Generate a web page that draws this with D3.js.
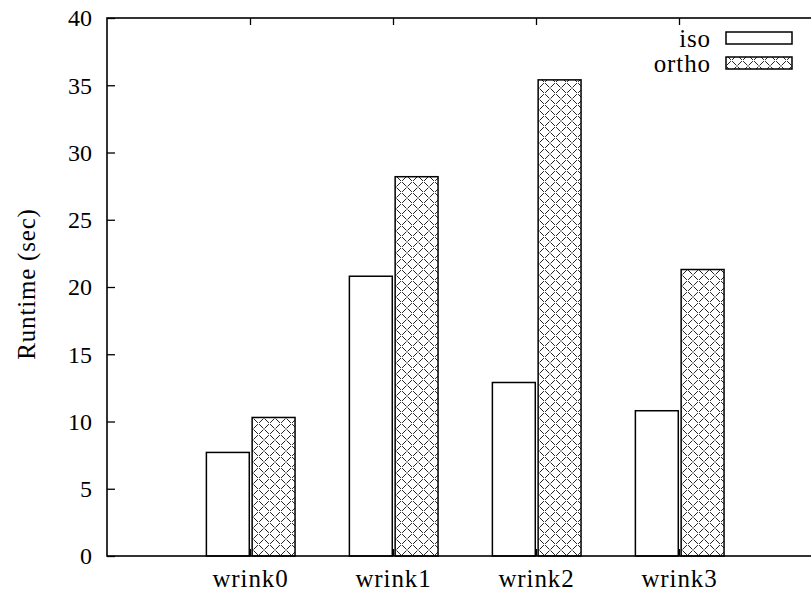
<!DOCTYPE html>
<html>
<head>
<meta charset="utf-8">
<script src="https://cdn.jsdelivr.net/npm/d3@7"></script>
<style>
  html, body { margin: 0; padding: 0; background: #fff; }
  svg { display: block; }
  text { font-family: "Liberation Serif", "DejaVu Serif", serif; fill: #000; }
</style>
</head>
<body>
<svg id="chart" width="811" height="594"></svg>
<script>
// Runtime per mesh, isotropic vs orthotropic
const categories = ["wrink0", "wrink1", "wrink2", "wrink3"];
const seriesNames = ["iso", "ortho"];
const isoValues = [7.7, 20.8, 12.9, 10.8];
const orthoValues = [10.3, 28.2, 35.4, 21.3];
const yTicks = [0, 5, 10, 15, 20, 25, 30, 35, 40];
const yLabel = "Runtime (sec)";

const svg = d3.select("#chart");
const frame = { left: 107, top: 18, right: 822, bottom: 556 };

// x in category-index units: one slot of padding on the left and right
const x = d3.scaleLinear().domain([-1, categories.length]).range([frame.left, frame.right]);
const y = d3.scaleLinear().domain([0, 40]).range([frame.bottom, frame.top]);

// crosshatch fill
const defs = svg.append("defs");
const pat = defs.append("pattern")
  .attr("id", "xhatch")
  .attr("patternUnits", "userSpaceOnUse")
  .attr("width", 11).attr("height", 11);
pat.append("rect").attr("width", 11).attr("height", 11).attr("fill", "#fff");
pat.append("path")
  .attr("d", "M0,0 L11,11 M11,0 L0,11")
  .attr("stroke", "#222").attr("stroke-width", 1)
  .attr("stroke-dasharray", "6.2 1.6")
  .attr("stroke-dashoffset", "-0.8");

const fills = { iso: "#fff", ortho: "url(#xhatch)" };
// bar extents relative to the category centre, in category units
const barSpan = { iso: [-0.305, -0.005], ortho: [0.015, 0.315] };

const rows = [];
categories.forEach((c, i) => {
  rows.push({ cat: c, i, s: "iso", v: isoValues[i] });
  rows.push({ cat: c, i, s: "ortho", v: orthoValues[i] });
});

// bars
svg.append("g").selectAll("rect").data(rows).join("rect")
  .attr("x", d => x(d.i + barSpan[d.s][0]))
  .attr("width", d => x(d.i + barSpan[d.s][1]) - x(d.i + barSpan[d.s][0]))
  .attr("y", d => y(d.v))
  .attr("height", d => y(0) - y(d.v))
  .attr("fill", d => fills[d.s])
  .attr("stroke", "#000").attr("stroke-width", 1.5);

// y axis (left, ticks inward) and mirror on the right
const yAxisL = d3.axisRight(y).tickValues(yTicks).tickSize(8).tickFormat("");
svg.append("g").attr("transform", `translate(${frame.left},0)`).call(yAxisL)
  .call(g => g.select(".domain").remove())
  .call(g => g.selectAll("line").attr("stroke-width", 1.3));
const yAxisR = d3.axisLeft(y).tickValues(yTicks).tickSize(8).tickFormat("");
svg.append("g").attr("transform", `translate(${frame.right},0)`).call(yAxisR)
  .call(g => g.select(".domain").remove())
  .call(g => g.selectAll("line").attr("stroke-width", 1.3));

// y tick labels
svg.append("g").selectAll("text").data(yTicks).join("text")
  .attr("x", frame.left - 15)
  .attr("y", d => y(d))
  .attr("dy", "0.35em")
  .attr("text-anchor", "end")
  .attr("font-size", 24)
  .text(d => d);

// x ticks: top and bottom, pointing inward
const catIdx = categories.map((c, i) => i);
const xAxisTop = d3.axisBottom(x).tickValues(catIdx).tickSize(7).tickFormat("");
svg.append("g").attr("transform", `translate(0,${frame.top})`).call(xAxisTop)
  .call(g => g.select(".domain").remove())
  .call(g => g.selectAll("line").attr("stroke-width", 1.3));
const xAxisBot = d3.axisTop(x).tickValues(catIdx).tickSize(7).tickFormat("");
svg.append("g").attr("transform", `translate(0,${frame.bottom})`).call(xAxisBot)
  .call(g => g.select(".domain").remove())
  .call(g => g.selectAll("line").attr("stroke-width", 1.3));

// x labels
svg.append("g").selectAll("text").data(categories).join("text")
  .attr("x", (d, i) => x(i) + 0.5)
  .attr("y", 587)
  .attr("text-anchor", "middle")
  .attr("font-size", 25)
  .attr("letter-spacing", 0.9)
  .text(d => d);

// frame
svg.append("rect")
  .attr("x", frame.left).attr("y", frame.top)
  .attr("width", frame.right - frame.left).attr("height", frame.bottom - frame.top)
  .attr("fill", "none").attr("stroke", "#000").attr("stroke-width", 1.6);

// y label
svg.append("text")
  .attr("transform", `translate(35,284) rotate(-90)`)
  .attr("text-anchor", "middle")
  .attr("font-size", 25)
  .attr("letter-spacing", 0.8)
  .text(yLabel);

// legend
const leg = svg.append("g");
seriesNames.forEach((s, k) => {
  const cy = 38 + k * 25;
  leg.append("text")
    .attr("x", 711).attr("y", cy).attr("dy", "0.35em")
    .attr("text-anchor", "end").attr("font-size", 25)
    .attr("letter-spacing", 0.9)
    .text(s);
  leg.append("rect")
    .attr("x", 726).attr("y", cy - 6).attr("width", 66).attr("height", 12)
    .attr("fill", fills[s]).attr("stroke", "#000").attr("stroke-width", 1.5);
});
</script>
</body>
</html>
